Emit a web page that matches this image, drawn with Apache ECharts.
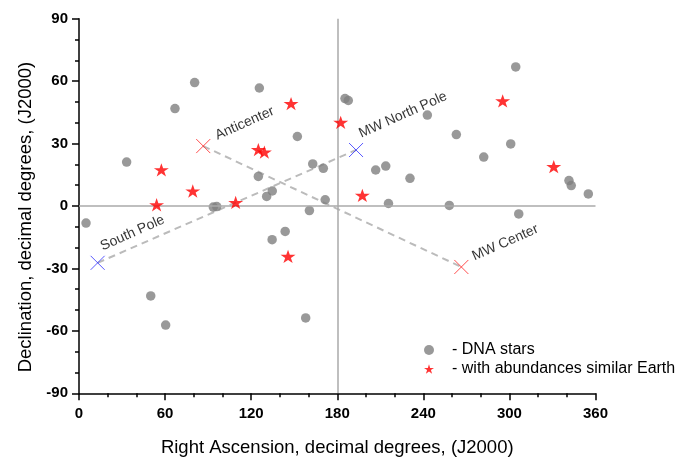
<!DOCTYPE html>
<html><head><meta charset="utf-8">
<script src="https://cdn.jsdelivr.net/npm/echarts@6/dist/echarts.min.js"></script>
<style>html,body{margin:0;padding:0;background:#fff}#c{width:694px;height:458px}</style>
</head><body><div id="c"></div>
<script>
// DNA stars (grey dots)
const dnaRA  = [4.9, 33.2, 66.9, 80.6, 50.0, 60.4, 93.6, 96.0, 125.7, 152.2, 162.9, 170.3, 125.0, 134.7, 130.8, 171.6, 160.6, 185.4, 187.7, 242.8, 263.0, 206.8, 213.8, 230.7, 215.7, 258.1, 304.4, 300.9, 282.1, 341.5, 343.1, 355.0, 306.5, 134.6, 143.7, 158.0];
const dnaDec = [-8.2, 21.1, 46.8, 59.3, -43.2, -57.2, -0.5, -0.3, 56.7, 33.4, 20.2, 18.1, 14.2, 7.2, 4.6, 3.0, -2.2, 51.6, 50.7, 43.7, 34.3, 17.3, 19.2, 13.3, 1.2, 0.3, 66.8, 29.8, 23.5, 12.2, 9.8, 5.8, -3.8, -16.2, -12.2, -53.8];
// Stars with abundances similar to Earth (red stars)
const earthRA  = [57.4, 54.1, 79.3, 109.2, 147.8, 182.4, 125.0, 129.2, 197.5, 145.7, 295.3, 330.9];
const earthDec = [17.4, 0.6, 7.2, 1.7, 49.2, 40.2, 27.1, 25.9, 5.1, -24.2, 50.5, 18.9];
// Reference directions
const refNames = ["Anticenter", "MW Center", "South Pole", "MW North Pole"];
const refRA    = [86.6, 266.5, 13.0, 193.1];
const refDec   = [28.8, -29.3, -27.3, 26.9];
const refColor = ["red", "red", "blue", "blue"];
// axis ticks
const xTicks = [0, 60, 120, 180, 240, 300, 360];
const yTicks = [-90, -60, -30, 0, 30, 60, 90];

const STAR = 'path://M50,0L61.23,34.55L97.55,34.55L68.17,55.9L79.39,90.45L50,69.1L20.61,90.45L31.83,55.9L2.45,34.55L38.77,34.55Z';
const CROSS = 'path://M0,0L10,10M10,0L0,10';
const labelPos = [[23, 4], [22, 4], [14, -2], [14, -2]];

const chart = echarts.init(document.getElementById('c'), null, {renderer: 'canvas'});
const font = 'Arial, "Liberation Sans", sans-serif';
function pairs(a, b) { return a.map((v, i) => [v, b[i]]); }

const refSeries = refNames.map((n, i) => ({
  type: 'scatter', name: n, silent: true, z: 4,
  symbol: CROSS, symbolSize: 14,
  itemStyle: {color: 'transparent', borderColor: refColor[i] === 'red' ? '#ff2020' : '#3030ff', borderWidth: 1},
  label: {show: true, formatter: n, position: labelPos[i], align: 'left', verticalAlign: 'bottom',
          rotate: 24, fontSize: 14, fontFamily: font, color: '#000'},
  data: [[refRA[i], refDec[i]]]
}));

const option = {
  animation: false,
  backgroundColor: '#fff',
  grid: {left: 79, right: 98.5, top: 18.7, bottom: 64.7, containLabel: false, outerBoundsMode: 'none'},
  xAxis: {
    type: 'value', min: 0, max: 360, interval: 60,
    name: 'Right Ascension, decimal degrees, (J2000)', nameLocation: 'middle', nameGap: 45,
    nameTextStyle: {fontSize: 18.5, fontFamily: font, color: '#000'},
    axisLine: {onZero: false, lineStyle: {color: '#000', width: 1.5}},
    axisTick: {length: 7, lineStyle: {color: '#000', width: 1.5}},
    minorTick: {show: true, splitNumber: 3, length: 4, lineStyle: {color: '#000', width: 1.5}},
    axisLabel: {fontSize: 15, fontWeight: 'bold', fontFamily: font, color: '#000', margin: 13,
                formatter: v => xTicks.includes(v) ? String(v) : ''},
    splitLine: {show: false}
  },
  yAxis: {
    type: 'value', min: -90, max: 90, interval: 30,
    name: 'Declination, decimal degrees, (J2000)', nameLocation: 'middle', nameGap: 44,
    nameTextStyle: {fontSize: 18.5, fontFamily: font, color: '#000', padding: [0, 22, 0, 0]},
    axisLine: {onZero: false, lineStyle: {color: '#000', width: 1.5}},
    axisTick: {length: 7, lineStyle: {color: '#000', width: 1.5}},
    minorTick: {show: true, splitNumber: 3, length: 4, lineStyle: {color: '#000', width: 1.5}},
    axisLabel: {fontSize: 15, fontWeight: 'bold', fontFamily: font, color: '#000', margin: 11,
                formatter: v => yTicks.includes(v) ? String(v) : ''},
    splitLine: {show: false}
  },
  legend: {
    orient: 'vertical', left: 419, top: 337, itemGap: 3,
    itemWidth: 10, itemHeight: 10,
    data: [{name: 'DNA stars', icon: 'circle'}, {name: 'with abundances similar Earth', icon: STAR}],
    formatter: '- {name}',
    textStyle: {fontSize: 16, fontFamily: font, color: '#000', padding: [0, 0, 0, 13]}
  },
  series: [
    {
      type: 'line', silent: true, symbol: 'none', z: 1, data: [],
      markLine: {
        silent: true, symbol: 'none', label: {show: false},
        lineStyle: {color: '#aaaaaa', width: 1.5, type: 'solid'},
        data: [{xAxis: 180}, {yAxis: 0}]
      }
    },
    {
      type: 'line', silent: true, symbol: 'none', z: 2,
      lineStyle: {color: '#bbbbbb', width: 2, type: [7, 5]},
      data: [[refRA[0], refDec[0]], [refRA[1], refDec[1]]]
    },
    {
      type: 'line', silent: true, symbol: 'none', z: 2,
      lineStyle: {color: '#bbbbbb', width: 2, type: [7, 5]},
      data: [[refRA[2], refDec[2]], [refRA[3], refDec[3]]]
    },
    {
      type: 'scatter', name: 'DNA stars', symbol: 'circle', symbolSize: 9.5, z: 3,
      itemStyle: {color: '#808080'},
      data: pairs(dnaRA, dnaDec)
    },
    {
      type: 'scatter', name: 'with abundances similar Earth', symbol: STAR, symbolSize: [15, 14], z: 5,
      symbolKeepAspect: true,
      itemStyle: {color: '#ff0000'},
      data: pairs(earthRA, earthDec)
    },
    ...refSeries
  ]
};
chart.setOption(option);
</script></body></html>
